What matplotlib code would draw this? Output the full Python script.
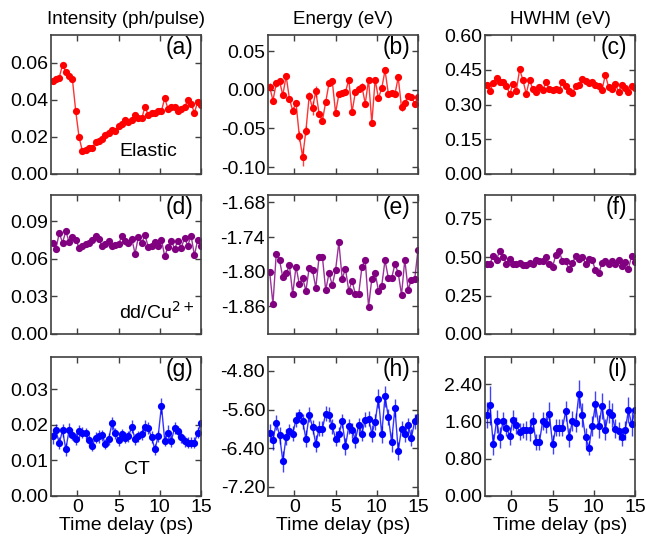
import numpy as np
import matplotlib
matplotlib.use('Agg')
import matplotlib.pyplot as plt
from matplotlib.ticker import FuncFormatter

plt.rcParams['font.family'] = ['Liberation Sans', 'DejaVu Sans']

# --- Data ---
t_delay = [round(-3.0 + 0.4 * i, 1) for i in range(46)]

elastic_int = [0.050, 0.051, 0.052, 0.059, 0.055, 0.053, 0.051, 0.034, 0.020, 0.0125,
               0.013, 0.014, 0.014, 0.017, 0.018, 0.019, 0.021, 0.022, 0.024, 0.023,
               0.026, 0.027, 0.029, 0.028, 0.029, 0.032, 0.030, 0.030, 0.036, 0.032,
               0.033, 0.033, 0.034, 0.034, 0.041, 0.035, 0.036, 0.036, 0.034, 0.035,
               0.036, 0.040, 0.038, 0.033, 0.039, 0.037]
elastic_en = [0.004, -0.014, 0.008, 0.011, -0.007, 0.018, -0.012, -0.027, -0.017, -0.060,
              -0.087, -0.053, -0.008, -0.024, -0.002, -0.031, -0.040, -0.016, 0.008, 0.011,
              -0.030, -0.006, -0.004, -0.003, 0.013, -0.029, -0.003, 0.001, 0.004, -0.018,
              0.013, -0.043, 0.013, -0.011, 0.002, 0.025, -0.005, -0.004, -0.006, 0.016,
              -0.023, -0.017, -0.008, -0.009, -0.018, -0.010]
elastic_en_err = [0.004, 0.003, 0.004, 0.003, 0.004, 0.003, 0.004, 0.004, 0.004, 0.006,
                  0.012, 0.006, 0.005, 0.009, 0.007, 0.004, 0.005, 0.004, 0.003, 0.004,
                  0.004, 0.003, 0.003, 0.003, 0.004, 0.004, 0.003, 0.003, 0.004, 0.004,
                  0.004, 0.004, 0.004, 0.003, 0.003, 0.004, 0.003, 0.003, 0.003, 0.004,
                  0.004, 0.003, 0.003, 0.003, 0.004, 0.004]
elastic_hw = [0.383, 0.359, 0.392, 0.413, 0.395, 0.396, 0.382, 0.345, 0.389, 0.359,
              0.452, 0.406, 0.346, 0.406, 0.367, 0.356, 0.375, 0.363, 0.395, 0.366,
              0.363, 0.366, 0.363, 0.399, 0.380, 0.360, 0.349, 0.378, 0.385, 0.409,
              0.403, 0.392, 0.395, 0.385, 0.378, 0.363, 0.428, 0.375, 0.366, 0.388,
              0.356, 0.385, 0.373, 0.356, 0.380, 0.370]

dd_int = [0.0727, 0.068, 0.0806, 0.073, 0.082, 0.0735, 0.0774, 0.0753, 0.069, 0.0706,
          0.072, 0.073, 0.075, 0.0785, 0.076, 0.070, 0.072, 0.074, 0.0706, 0.0714,
          0.0716, 0.0785, 0.074, 0.073, 0.076, 0.0642, 0.0774, 0.0727, 0.079, 0.0695,
          0.070, 0.0735, 0.0706, 0.0753, 0.062, 0.0695, 0.0745, 0.068, 0.0745, 0.0687,
          0.0767, 0.0706, 0.0785, 0.0627, 0.0753, 0.0706]
dd_en = [-1.800, -1.856, -1.769, -1.780, -1.810, -1.803, -1.789, -1.839, -1.791, -1.822,
         -1.811, -1.833, -1.793, -1.797, -1.828, -1.774, -1.774, -1.832, -1.803, -1.823,
         -1.797, -1.749, -1.812, -1.795, -1.833, -1.816, -1.839, -1.839, -1.791, -1.780,
         -1.861, -1.812, -1.802, -1.833, -1.824, -1.780, -1.811, -1.811, -1.787, -1.802,
         -1.840, -1.779, -1.831, -1.814, -1.813, -1.762]
dd_hw = [0.457, 0.457, 0.511, 0.485, 0.543, 0.502, 0.459, 0.491, 0.457, 0.457,
         0.463, 0.446, 0.446, 0.463, 0.459, 0.481, 0.478, 0.478, 0.502, 0.453,
         0.437, 0.517, 0.539, 0.474, 0.474, 0.420, 0.463, 0.506, 0.491, 0.500,
         0.459, 0.491, 0.481, 0.416, 0.394, 0.463, 0.474, 0.453, 0.478, 0.453,
         0.481, 0.442, 0.468, 0.425, 0.511, 0.468]

ct_int = [0.0167, 0.0184, 0.0148, 0.0184, 0.0131, 0.0186, 0.0172, 0.0159, 0.0181, 0.0178,
          0.0176, 0.0156, 0.0141, 0.0164, 0.0167, 0.0170, 0.0146, 0.0160, 0.0204, 0.0176,
          0.0156, 0.0173, 0.0164, 0.0167, 0.0195, 0.0159, 0.0167, 0.0173, 0.0195, 0.0190,
          0.0165, 0.0131, 0.0167, 0.0253, 0.0155, 0.0178, 0.0155, 0.0192, 0.0181, 0.0165,
          0.0153, 0.0150, 0.0150, 0.0150, 0.0178, 0.0206]
ct_int_err = [0.0020, 0.0018, 0.0017, 0.0019, 0.0018, 0.0020, 0.0016, 0.0017, 0.0018, 0.0016,
              0.0015, 0.0016, 0.0015, 0.0016, 0.0017, 0.0016, 0.0015, 0.0016, 0.0018, 0.0016,
              0.0015, 0.0016, 0.0016, 0.0016, 0.0017, 0.0016, 0.0016, 0.0016, 0.0018, 0.0017,
              0.0016, 0.0015, 0.0016, 0.0022, 0.0016, 0.0020, 0.0017, 0.0017, 0.0016, 0.0016,
              0.0015, 0.0015, 0.0015, 0.0015, 0.0016, 0.0030]
ct_en = [-6.084, -6.236, -5.870, -6.132, -6.670, -6.167, -6.043, -6.097, -5.808, -5.718,
         -5.842, -6.201, -5.704, -5.960, -6.304, -5.994, -5.994, -5.683, -5.704, -5.946,
         -6.201, -6.111, -5.835, -6.360, -5.946, -6.029, -6.222, -5.925, -6.097, -5.808,
         -5.787, -6.097, -5.856, -5.372, -6.111, -5.325, -5.752, -6.270, -5.567, -6.457,
         -5.994, -6.097, -5.925, -6.180, -5.842, -5.750]
ct_en_err = [0.18, 0.20, 0.16, 0.18, 0.22, 0.17, 0.15, 0.16, 0.15, 0.14,
             0.15, 0.17, 0.15, 0.15, 0.18, 0.16, 0.15, 0.16, 0.15, 0.15,
             0.16, 0.16, 0.15, 0.18, 0.15, 0.15, 0.17, 0.16, 0.16, 0.15,
             0.16, 0.18, 0.16, 0.20, 0.18, 0.22, 0.16, 0.20, 0.18, 0.18,
             0.16, 0.17, 0.15, 0.17, 0.16, 0.30]
ct_hw = [1.74, 1.95, 1.11, 1.61, 1.26, 1.61, 1.47, 1.29, 1.64, 1.52,
         1.38, 1.41, 1.41, 1.41, 1.61, 1.16, 1.16, 1.61, 1.54, 1.77,
         1.11, 1.47, 1.47, 1.47, 1.83, 1.26, 1.61, 1.58, 2.20, 1.74,
         1.26, 1.04, 1.50, 1.97, 1.50, 1.94, 1.43, 1.81, 1.74, 1.45,
         1.40, 1.27, 1.41, 1.84, 1.55, 1.84]
ct_hw_err = [0.28, 0.42, 0.22, 0.25, 0.22, 0.20, 0.18, 0.20, 0.22, 0.18,
             0.18, 0.17, 0.20, 0.22, 0.20, 0.18, 0.18, 0.20, 0.18, 0.25,
             0.20, 0.18, 0.18, 0.18, 0.22, 0.20, 0.22, 0.20, 0.30, 0.25,
             0.20, 0.15, 0.22, 0.28, 0.25, 0.28, 0.22, 0.25, 0.25, 0.20,
             0.20, 0.20, 0.20, 0.28, 0.25, 0.40]

col_titles = ['Intensity (ph/pulse)', 'Energy (eV)', 'HWHM (eV)']
panel_tags = ['(a)', '(b)', '(c)', '(d)', '(e)', '(f)', '(g)', '(h)', '(i)']
row_names = ['Elastic', 'dd/Cu$^{2+}$', 'CT']
row_colors = ['#ff0000', '#800080', '#0000ff']

series = [[(elastic_int, None), (elastic_en, elastic_en_err), (elastic_hw, None)],
          [(dd_int, None), (dd_en, None), (dd_hw, None)],
          [(ct_int, ct_int_err), (ct_en, ct_en_err), (ct_hw, ct_hw_err)]]

ylims = [[(0, 0.075), (-0.109, 0.0707), (0, 0.60)],
         [(0, 0.111), (-1.908, -1.667), (0, 0.905)],
         [(0, 0.039), (-7.39, -4.51), (0, 2.99)]]
yticks = [[[0, 0.02, 0.04, 0.06], [-0.10, -0.05, 0, 0.05], [0, 0.15, 0.30, 0.45, 0.60]],
          [[0, 0.03, 0.06, 0.09], [-1.86, -1.80, -1.74, -1.68], [0, 0.25, 0.50, 0.75]],
          [[0, 0.01, 0.02, 0.03], [-7.2, -6.4, -5.6, -4.8], [0, 0.8, 1.6, 2.4]]]

# --- Layout ---
fig = plt.figure(figsize=(6.45, 5.4), dpi=100)
lefts = [51 / 645, 268 / 645, 485 / 645]
width = 150 / 645
tops = [35, 195, 357]
height = 139 / 540

fmt = FuncFormatter(lambda v, p: f'{v:.2f}')
spine_col = '#404040'
fs = 14

for r in range(3):
    for c in range(3):
        ax = fig.add_axes([lefts[c], 1 - (tops[r] + 139) / 540, width, height])
        y, err = series[r][c]
        col = row_colors[r]
        if err is not None:
            ax.errorbar(t_delay, y, yerr=err, fmt='none', ecolor=col, elinewidth=1.0,
                        capsize=0, alpha=0.75)
        ax.plot(t_delay, y, '-', color=col, lw=1.0, alpha=0.8)
        ax.plot(t_delay, y, 'o', color=col, ms=5.2, mew=0)
        ax.set_xlim(-3.2, 15)
        ax.set_ylim(*ylims[r][c])
        ax.set_xticks([0, 5, 10, 15])
        ax.set_yticks(yticks[r][c])
        ax.yaxis.set_major_formatter(fmt)
        ax.tick_params(direction='in', top=True, right=True, length=4.5, width=1,
                       labelsize=fs, labelcolor='black', color=spine_col, pad=2)
        for s in ax.spines.values():
            s.set_color(spine_col)
            s.set_linewidth(1.2)
        if r < 2:
            ax.set_xticklabels([])
        else:
            ax.set_xlabel('Time delay (ps)', fontsize=fs, labelpad=1)
        if r == 0:
            ax.set_title(col_titles[c], fontsize=13.5, pad=8)
        ax.text(0.95, 0.91, panel_tags[r * 3 + c], transform=ax.transAxes,
                ha='right', va='center', fontsize=16.5)
        if c == 0:
            ypos = [0.16, 0.16, 0.19][r]
            xpos = [0.65, 0.96, 0.57][r]
            ax.text(xpos, ypos, row_names[r], transform=ax.transAxes,
                    ha='right' if r == 1 else 'center', va='center', fontsize=fs)

fig.savefig('out.png', dpi=100)
